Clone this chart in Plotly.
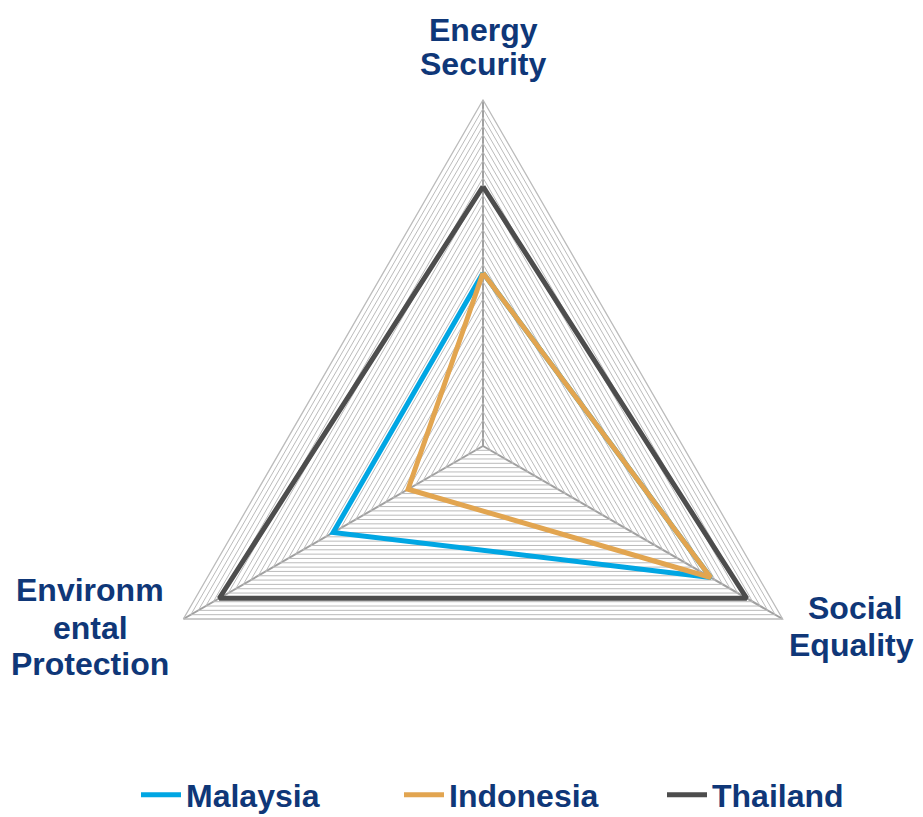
import plotly.graph_objects as go

categories = ["Energy Security", "Social Equality", "Environmental Protection"]
series_names = ["Malaysia", "Indonesia", "Thailand"]
malaysia = [0.50, 0.76, 0.50]
indonesia = [0.50, 0.76, 0.25]
thailand = [0.75, 0.88, 0.88]
colors = ["#00A6E3", "#E2A550", "#4D4D4D"]

W, H = 923, 817
OFF = 8  # page body margin offset
cx, cy, R = 483 - OFF, 446 - OFF, 346

fig = go.Figure()
for name, vals, col in zip(series_names, [malaysia, indonesia, thailand], colors):
    fig.add_trace(go.Scatterpolar(
        r=vals + vals[:1], theta=categories + categories[:1],
        mode="lines", name=name,
        line=dict(color=col, width=5),
    ))

navy = "#0F3778"
font_family = "Liberation Sans, Arial, sans-serif"
label_lines = [
    ("Energy", 483, 30), ("Security", 483, 64),
    ("Social", 855, 608), ("Equality", 851, 645),
    ("Environm", 90, 590), ("ental", 90, 628), ("Protection", 90, 664),
]
annotations = [
    dict(text=t, x=(x - OFF) / W, y=1 - (y - OFF) / H, xref="paper", yref="paper",
         showarrow=False, xanchor="center", yanchor="middle",
         font=dict(family=font_family, size=32, color=navy, weight="bold"))
    for t, x, y in label_lines
]

fig.update_layout(
    width=W, height=H,
    margin=dict(l=0, r=0, t=0, b=0, autoexpand=False),
    paper_bgcolor="white", plot_bgcolor="white",
    showlegend=True,
    legend=dict(orientation="h", x=(140 - OFF - 4) / W, xanchor="left",
                y=1 - (795 - OFF) / H, yanchor="middle",
                font=dict(family="Liberation Sans Narrow, Arial Narrow, " + font_family,
                          size=32, color=navy, weight="bold"),
                itemwidth=40, tracegroupgap=0, entrywidth=208, entrywidthmode="pixels"),
    polar=dict(
        domain=dict(x=[(cx - R) / W, (cx + R) / W], y=[1 - (cy + R) / H, 1 - (cy - R) / H]),
        gridshape="linear",
        bgcolor="white",
        radialaxis=dict(range=[0, 1], dtick=0.025, showticklabels=False, ticks="",
                        showline=False, gridcolor="#BBBBBB", gridwidth=1.3),
        angularaxis=dict(type="category", categoryarray=categories, rotation=90,
                         direction="clockwise", showticklabels=False, ticks="",
                         showline=True, linecolor="#BBBBBB", linewidth=1.3,
                         gridcolor="#A0A0A0", gridwidth=2),
    ),
    annotations=annotations,
)

fig.write_html("out.html")
